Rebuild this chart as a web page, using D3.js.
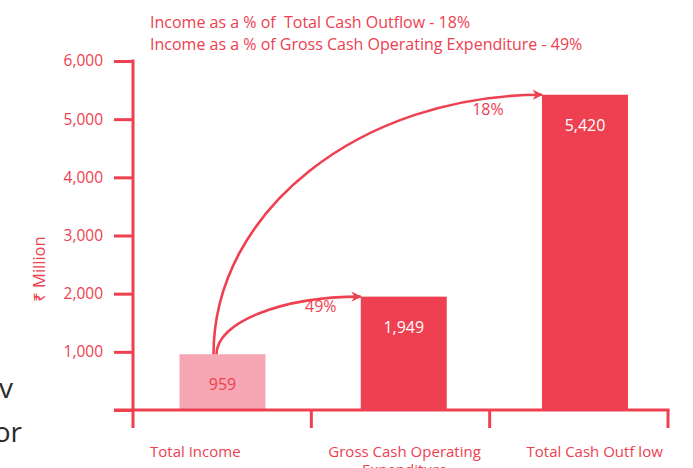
<!DOCTYPE html>
<html>
<head>
<meta charset="utf-8">
<script src="https://cdn.jsdelivr.net/npm/d3@7"></script>
<style>
  body { margin: 0; background: #fff; }
  svg text { font-family: "Open Sans", "Noto Sans", sans-serif; }
</style>
</head>
<body>
<div id="chart"></div>
<script>
// data
const categories = ["Total Income", "Gross Cash Operating\nExpenditure", "Total Cash Outf low"];
const values = [959, 1949, 5420];
const valueLabels = ["959", "1,949", "5,420"];
const yTicks = [1000, 2000, 3000, 4000, 5000, 6000];
const titleLines = [
  "Income as a % of  Total Cash Outflow - 18%",
  "Income as a % of Gross Cash Operating Expenditure - 49%"
];
// arrows from income bar to the other bars
const ratios = [
  { to: 1, label: "49%" },
  { to: 2, label: "18%" }
];
const sideText = ["v", "or", "e"];

const width = 693, height = 468;
const red = "#ee4050";
const pink = "#f7a7b3";

const svg = d3.select("#chart").append("svg")
  .attr("width", width)
  .attr("height", height);

const x = d3.scaleBand().domain(d3.range(categories.length)).range([133, 674.5])
  .paddingInner(0.5255).paddingOuter(0.2566);
const bands = d3.scaleBand().domain(d3.range(categories.length)).range([133, 668]);
const y = d3.scaleLinear().domain([0, 6000]).range([410, 61]);

// cut-off text of the page at left
svg.selectAll(".side")
  .data(sideText)
  .enter().append("text")
  .attr("x", (d, i) => [13, 22, 20][i])
  .attr("y", (d, i) => 398 + i * 44)
  .attr("text-anchor", "end")
  .attr("font-size", 28)
  .attr("fill", "#2b2b2b")
  .text(d => d);

// title
svg.selectAll(".title")
  .data(titleLines)
  .enter().append("text")
  .attr("x", 150)
  .attr("y", (d, i) => 28 + i * 22)
  .attr("font-size", 16)
  .attr("fill", red)
  .style("white-space", "pre")
  .text(d => d);

// bars
svg.selectAll(".bar")
  .data(values)
  .enter().append("rect")
  .attr("x", (d, i) => x(i))
  .attr("y", d => y(d))
  .attr("width", x.bandwidth())
  .attr("height", d => y(0) - y(d))
  .attr("fill", (d, i) => i === 0 ? pink : red);

svg.selectAll(".val")
  .data(valueLabels)
  .enter().append("text")
  .attr("x", (d, i) => x(i) + x.bandwidth() / 2)
  .attr("y", (d, i) => y(values[i]) + 36)
  .attr("text-anchor", "middle")
  .attr("font-size", 16)
  .attr("fill", (d, i) => i === 0 ? red : "#fff")
  .text(d => d);

// y axis
const yAxis = d3.axisLeft(y).tickValues([0].concat(yTicks)).tickSize(19).tickPadding(11)
  .tickFormat(d => d === 0 ? "" : d3.format(",")(d));
const gy = svg.append("g").attr("transform", "translate(133,0)").call(yAxis);
gy.select(".domain").remove();
gy.append("line").attr("x1", 0).attr("x2", 0).attr("y1", y(6000) - 1.5).attr("y2", 428);
gy.selectAll("line").attr("stroke", red).attr("stroke-width", 3);
gy.selectAll("text").attr("fill", red).attr("font-size", 15.5).attr("font-family", null);

// x axis line + category dividers
const gx = svg.append("g");
gx.append("line").attr("x1", 114).attr("x2", 669.5).attr("y1", y(0)).attr("y2", y(0));
gx.selectAll(".div")
  .data(d3.range(1, categories.length + 1))
  .enter().append("line")
  .attr("x1", i => bands(i - 1) + bands.bandwidth())
  .attr("x2", i => bands(i - 1) + bands.bandwidth())
  .attr("y1", y(0)).attr("y2", 428);
gx.selectAll("line").attr("stroke", red).attr("stroke-width", 3);

// category labels
svg.selectAll(".cat")
  .data(categories)
  .enter().append("text")
  .attr("font-size", 15)
  .attr("fill", red)
  .attr("text-anchor", "middle")
  .each(function (d, i) {
    const t = d3.select(this);
    const lines = d.split("\n");
    lines.forEach((l, k) => t.append("tspan").attr("dy", k === 0 ? 0 : 18).text(l));
    const w = t.select("tspan").node().getComputedTextLength();
    const cx = i === 2 ? bands(i) + 105 : bands(i) + 17 + w / 2;
    t.attr("y", 457).selectAll("tspan").attr("x", cx);
  });

// y label
svg.append("text")
  .attr("transform", "translate(45,269) rotate(-90)")
  .attr("text-anchor", "middle")
  .attr("font-size", 16.5)
  .attr("fill", red)
  .text("₹ Million");

// arrows
svg.append("defs").append("marker")
  .attr("id", "head")
  .attr("viewBox", "0 0 10 10")
  .attr("refX", 9).attr("refY", 5)
  .attr("markerWidth", 4).attr("markerHeight", 4)
  .attr("markerUnits", "strokeWidth")
  .attr("orient", "auto")
  .append("path").attr("d", "M0,0 L10,5 L0,10 L3,5 Z").attr("fill", red);

const x0 = x(0) + x.bandwidth() / 2 - 9, y0 = y(values[0]);
const k = 0.5523; // quarter-ellipse bezier factor
ratios.forEach(r => {
  const tx = x(r.to), ty = y(values[r.to]);
  const sx = x0 + (r.to === 1 ? 3 : 0);
  const p = d3.path();
  p.moveTo(sx, y0);
  p.bezierCurveTo(sx, y0 - k * (y0 - ty), tx - k * (tx - sx), ty, tx, ty);
  svg.append("path")
    .attr("d", p.toString())
    .attr("fill", "none")
    .attr("stroke", red)
    .attr("stroke-width", 2.6)
    .attr("marker-end", "url(#head)");
  svg.append("text")
    .attr("x", tx - (r.to === 1 ? 40 : 54))
    .attr("y", ty + (r.to === 1 ? 15 : 20))
    .attr("text-anchor", "middle")
    .attr("font-size", 16)
    .attr("fill", red)
    .text(r.label);
});
</script>
</body>
</html>
